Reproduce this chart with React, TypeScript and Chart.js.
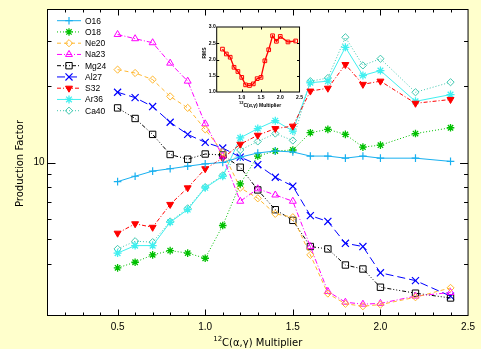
import React, { useEffect, useRef } from 'react';
import { Chart, registerables, PointElement } from 'chart.js';
Chart.register(...registerables);

const BG = '#FFFFCC';

const multipliers = [0.5, 0.6, 0.7, 0.8, 0.9, 1.0, 1.1, 1.2, 1.3, 1.4, 1.5, 1.6, 1.7, 1.8, 1.9, 2.0, 2.2, 2.4];
const o16 = [8.41, 8.83, 9.25, 9.45, 9.67, 9.88, 10.0, 10.5, 10.9, 11.1, 11.0, 10.6, 10.6, 10.4, 10.6, 10.4, 10.4, 10.1];
const o18 = [3.85, 4.05, 4.33, 4.5, 4.4, 4.2, 5.65, 8.24, 10.6, 11.1, 11.2, 13.1, 13.5, 12.9, 11.5, 11.7, 13.0, 13.7];
const ne20 = [23.2, 22.5, 21.2, 18.2, 16.4, 13.5, 11.0, 7.95, 7.23, 6.28, 6.09, 4.33, 3.05, 2.78, 2.72, 2.76, 2.95, 3.21];
const na23 = [31.9, 30.7, 29.6, 24.6, 20.9, 14.2, 10.6, 7.04, 7.88, 7.45, 7.04, 4.67, 3.11, 2.82, 2.77, 2.79, 2.98, 3.08];
const mg24 = [16.4, 14.9, 12.9, 10.75, 10.3, 10.8, 10.7, 9.58, 7.8, 6.52, 5.92, 4.67, 4.57, 3.95, 3.81, 3.23, 3.06, 2.93];
const al27 = [18.9, 18.0, 16.6, 14.4, 12.9, 12.0, 11.4, 10.5, 9.8, 8.75, 8.07, 6.18, 5.86, 4.81, 4.67, 3.68, 3.43, 2.98];
const s32 = [5.27, 5.74, 5.56, 6.84, 7.95, 9.45, 10.4, 11.8, 12.8, 13.6, 13.9, 19.1, 19.6, 24.3, 20.3, 20.9, 17.1, 17.7];
const ar36 = [4.4, 4.71, 4.71, 5.82, 6.53, 7.95, 8.83, 12.5, 13.6, 14.6, 13.3, 20.6, 20.9, 28.4, 22.0, 23.0, 17.4, 18.5];
const ca40 = [4.57, 4.9, 4.86, 5.86, 6.6, 8.0, 8.9, 11.2, 12.1, 13.0, 12.2, 20.9, 21.5, 31.1, 24.1, 25.6, 18.9, 20.7];
const rms = [2.32, 2.17, 2.07, 1.76, 1.63, 1.45, 1.22, 1.2, 1.25, 1.41, 1.45, 1.96, 2.3, 2.73, 2.56, 2.71, 2.54, 2.57];

const seriesLabels = ['O16', 'O18', 'Ne20', 'Na23', 'Mg24', 'Al27', 'S32', 'Ar36', 'Ca40'];
const seriesValues = [o16, o18, ne20, na23, mg24, al27, s32, ar36, ca40];
const seriesStyles = [
  { color: '#18B0F0', dash: [], point: 'cross', radius: 3.8, fill: false, bw: 1.2, rot: 0 },
  { color: '#00C000', dash: [1, 2], point: 'star', radius: 3.8, fill: false, bw: 1.3, rot: 0 },
  { color: '#FFB830', dash: [4, 3], point: 'rectRot', radius: 3.6, fill: false, bw: 1, rot: 0 },
  { color: '#FF00FF', dash: [5, 2, 1, 2], point: 'triangle', radius: 4, fill: false, bw: 1, rot: 0 },
  { color: '#000000', dash: [4, 2, 1, 2, 1, 2, 1, 2], point: 'rect', radius: 4.5, fill: false, bw: 1, rot: 0 },
  { color: '#0000FF', dash: [8, 4], point: 'crossRot', radius: 5, fill: false, bw: 1.2, rot: 0 },
  { color: '#FF0000', dash: [4, 2, 1, 2], point: 'triangle', radius: 4, fill: true, bw: 1, rot: 180 },
  { color: '#40F0F0', dash: [], point: 'star', radius: 4, fill: false, bw: 1.3, rot: 0 },
  { color: '#40C8B0', dash: [1, 2], point: 'rectRot', radius: 3.6, fill: false, bw: 1, rot: 0 },
];

const TICK_FONT = 'Liberation Sans, Arial, sans-serif';
const TITLE_FONT = 'DejaVu Sans, sans-serif';

const mainPlugin = {
  id: 'mainFrame',
  beforeDraw(chart: any) {
    const { ctx, chartArea: a, width, height } = chart;
    ctx.save();
    ctx.fillStyle = BG;
    ctx.fillRect(0, 0, width, height);
    ctx.fillStyle = '#FFFFFF';
    ctx.fillRect(a.left, a.top, a.right - a.left, a.bottom - a.top);
    ctx.restore();
  },
  afterDraw(chart: any) {
    const { ctx, chartArea: a } = chart;
    const xs = chart.scales.x;
    const ys = chart.scales.y;
    ctx.save();
    ctx.setLineDash([]);
    ctx.strokeStyle = '#000';
    ctx.lineWidth = 1;
    ctx.beginPath();
    xs.ticks.forEach((t: any) => {
      const v = t.value;
      if (v <= xs.min + 1e-6 || v >= xs.max - 1e-6) return;
      const px = Math.round(xs.getPixelForValue(v)) + 0.5;
      const major = Math.abs(v * 2 - Math.round(v * 2)) < 1e-6;
      const len = major ? 6 : 3;
      ctx.moveTo(px, a.bottom);
      ctx.lineTo(px, a.bottom - len);
      ctx.moveTo(px, a.top);
      ctx.lineTo(px, a.top + len);
    });
    ys.ticks.forEach((t: any) => {
      const v = t.value;
      if (v <= ys.min * 1.0001 || v >= ys.max * 0.9999) return;
      const e = Math.pow(10, Math.floor(Math.log10(v) + 1e-9));
      const m = v / e;
      if (Math.abs(m - Math.round(m)) > 1e-6) return;
      const py = Math.round(ys.getPixelForValue(v)) + 0.5;
      const major = Math.abs(m - 1) < 1e-6;
      const len = major ? 8 : 4;
      ctx.moveTo(a.left, py);
      ctx.lineTo(a.left + len, py);
      ctx.moveTo(a.right, py);
      ctx.lineTo(a.right - len, py);
    });
    ctx.stroke();
    ctx.strokeRect(a.left, a.top, a.right - a.left, a.bottom - a.top);

    // legend
    chart.data.datasets.forEach((ds: any, i: number) => {
      const y = 20.7 + i * 11.25;
      ctx.save();
      ctx.strokeStyle = ds.borderColor;
      ctx.lineWidth = 1;
      ctx.setLineDash(ds.borderDash || []);
      ctx.beginPath();
      ctx.moveTo(57, y);
      ctx.lineTo(81, y);
      ctx.stroke();
      ctx.setLineDash([]);
      const el = chart.getDatasetMeta(i).data[0];
      const p: any = new (PointElement as any)({ x: 69, y, options: el.options });
      p.draw(ctx, a);
      ctx.restore();
      ctx.fillStyle = '#000';
      ctx.font = '8.5px ' + TICK_FONT;
      ctx.textBaseline = 'middle';
      ctx.textAlign = 'left';
      ctx.fillText(ds.label, 85, y + 0.5);
    });

    // y title
    ctx.save();
    ctx.fillStyle = '#000';
    ctx.font = '10px ' + TITLE_FONT;
    ctx.textAlign = 'center';
    ctx.textBaseline = 'middle';
    ctx.translate(20.5, 163.5);
    ctx.rotate(-Math.PI / 2);
    ctx.fillText('Production Factor', 0, 0);
    ctx.restore();

    // x title with superscript
    ctx.save();
    ctx.fillStyle = '#000';
    ctx.textBaseline = 'alphabetic';
    ctx.textAlign = 'left';
    ctx.font = '7px ' + TITLE_FONT;
    const w1 = ctx.measureText('12').width;
    ctx.font = '10px ' + TITLE_FONT;
    const main = 'C(\u03b1,\u03b3) Multiplier';
    const w2 = ctx.measureText(main).width;
    const cx = (a.left + a.right) / 2;
    const sx = cx - (w1 + w2) / 2;
    ctx.font = '7px ' + TITLE_FONT;
    ctx.fillText('12', sx, 341.2);
    ctx.font = '10px ' + TITLE_FONT;
    ctx.fillText(main, sx + w1, 346);
    ctx.restore();
    ctx.restore();
  },
};

const insetPlugin = {
  id: 'insetFrame',
  beforeDraw(chart: any) {
    const { ctx, chartArea: a } = chart;
    ctx.save();
    ctx.fillStyle = BG;
    ctx.fillRect(a.left, a.top, a.right - a.left, a.bottom - a.top);
    ctx.restore();
  },
  afterDraw(chart: any) {
    const { ctx, chartArea: a } = chart;
    const xs = chart.scales.x;
    const ys = chart.scales.y;
    ctx.save();
    ctx.setLineDash([]);
    ctx.strokeStyle = '#000';
    ctx.lineWidth = 1;
    ctx.beginPath();
    xs.ticks.forEach((t: any) => {
      const v = t.value;
      if (v <= xs.min + 1e-6 || v >= xs.max - 1e-6) return;
      const px = Math.round(xs.getPixelForValue(v)) + 0.5;
      ctx.moveTo(px, a.bottom);
      ctx.lineTo(px, a.bottom - 2.5);
      ctx.moveTo(px, a.top);
      ctx.lineTo(px, a.top + 2.5);
    });
    ys.ticks.forEach((t: any) => {
      const v = t.value;
      if (v <= ys.min + 1e-6 || v >= ys.max - 1e-6) return;
      const py = Math.round(ys.getPixelForValue(v)) + 0.5;
      ctx.moveTo(a.left, py);
      ctx.lineTo(a.left + 2.5, py);
      ctx.moveTo(a.right, py);
      ctx.lineTo(a.right - 2.5, py);
    });
    ctx.stroke();
    ctx.strokeRect(a.left, a.top, a.right - a.left, a.bottom - a.top);

    ctx.fillStyle = '#000';
    // RMS
    ctx.save();
    ctx.font = 'bold 5px ' + TICK_FONT;
    ctx.textAlign = 'center';
    ctx.textBaseline = 'middle';
    ctx.translate(9, 41);
    ctx.rotate(-Math.PI / 2);
    ctx.fillText('RMS', 0, 0);
    ctx.restore();

    // x title
    ctx.textBaseline = 'alphabetic';
    ctx.textAlign = 'left';
    ctx.font = 'bold 4px ' + TICK_FONT;
    const w1 = ctx.measureText('12').width;
    ctx.font = 'bold 5px ' + TICK_FONT;
    const main = 'C(\u03b1,\u03b3) Multiplier';
    const w2 = ctx.measureText(main).width;
    const cx = (a.left + a.right) / 2 + 2;
    const sx = cx - (w1 + w2) / 2;
    ctx.font = 'bold 4px ' + TICK_FONT;
    ctx.fillText('12', sx, 92);
    ctx.font = 'bold 5px ' + TICK_FONT;
    ctx.fillText(main, sx + w1, 94.5);
    ctx.restore();
  },
};

export default function App() {
  const mainRef = useRef<HTMLCanvasElement>(null);
  const insetRef = useRef<HTMLCanvasElement>(null);

  useEffect(() => {
    const datasets = seriesLabels.map((label, i) => {
      const st = seriesStyles[i];
      return {
        label,
        data: multipliers.map((x, j) => ({ x, y: seriesValues[i][j] })),
        borderColor: st.color,
        backgroundColor: st.color,
        borderWidth: 1,
        borderDash: st.dash,
        pointStyle: st.point,
        pointRadius: st.radius,
        pointRotation: st.rot,
        pointBorderColor: st.color,
        pointBorderWidth: st.bw,
        pointBackgroundColor: st.fill ? st.color : 'rgba(0,0,0,0)',
        fill: false,
        tension: 0,
      };
    });
    const mainChart = new Chart(mainRef.current as HTMLCanvasElement, {
      type: 'line',
      data: { datasets } as any,
      options: {
        animation: false,
        responsive: false,
        maintainAspectRatio: false,
        layout: { padding: { top: 9.5, right: 9.5, left: 0, bottom: 0 } },
        plugins: { legend: { display: false }, tooltip: { enabled: false } },
        scales: {
          x: {
            type: 'linear',
            min: 0.1,
            max: 2.5,
            ticks: {
              stepSize: 0.1,
              autoSkip: false,
              maxRotation: 0,
              padding: 6,
              color: '#000',
              font: { family: TICK_FONT, size: 10 },
              callback: (v: any) => {
                const r = Math.round(Number(v) * 10);
                return r % 5 === 0 && r >= 5 ? (r / 10).toFixed(1) : '';
              },
            },
            grid: { display: false, drawTicks: false },
            border: { display: false },
            afterFit: (s: any) => { s.height = 33.5; },
          },
          y: {
            type: 'logarithmic',
            min: 2.5,
            max: 40,
            ticks: {
              autoSkip: false,
              padding: 3,
              color: '#000',
              font: { family: TICK_FONT, size: 10 },
              callback: (v: any) => (Math.abs(Number(v) - 10) < 1e-9 ? '10' : ''),
            },
            grid: { display: false, drawTicks: false },
            border: { display: false },
            afterFit: (s: any) => { s.width = 47.5; },
          },
        },
      } as any,
      plugins: [mainPlugin],
    });

    const insetChart = new Chart(insetRef.current as HTMLCanvasElement, {
      type: 'line',
      data: {
        datasets: [
          {
            label: 'RMS',
            data: multipliers.map((x, j) => ({ x, y: rms[j] })),
            borderColor: '#FF0000',
            borderWidth: 1.3,
            pointStyle: 'rect',
            pointRadius: 2.6,
            pointBorderColor: '#FF0000',
            pointBorderWidth: 1,
            pointBackgroundColor: 'rgba(0,0,0,0)',
            fill: false,
            tension: 0,
          },
        ],
      } as any,
      options: {
        animation: false,
        responsive: false,
        maintainAspectRatio: false,
        layout: { padding: { top: 15, right: 4, left: 0, bottom: 0 } },
        plugins: { legend: { display: false }, tooltip: { enabled: false } },
        scales: {
          x: {
            type: 'linear',
            min: 0.35,
            max: 2.5,
            ticks: {
              stepSize: 0.5,
              autoSkip: false,
              maxRotation: 0,
              padding: 3,
              color: '#000',
              font: { family: TICK_FONT, size: 5, weight: 'bold' },
              callback: (v: any) => {
                const r = Math.round(Number(v) * 10);
                return Math.abs(Number(v) * 10 - r) < 1e-6 && r % 5 === 0 ? (r / 10).toFixed(1) : '';
              },
            },
            grid: { display: false, drawTicks: false },
            border: { display: false },
            afterFit: (s: any) => { s.height = 20; },
          },
          y: {
            type: 'linear',
            min: 1.0,
            max: 3.0,
            ticks: {
              stepSize: 0.5,
              autoSkip: false,
              padding: 1,
              color: '#000',
              font: { family: TICK_FONT, size: 5, weight: 'bold' },
              callback: (v: any) => Number(v).toFixed(1),
            },
            grid: { display: false, drawTicks: false },
            border: { display: false },
            afterFit: (s: any) => { s.width = 20.7; },
          },
        },
      } as any,
      plugins: [insetPlugin],
    });

    return () => {
      mainChart.destroy();
      insetChart.destroy();
    };
  }, []);

  return (
    <div style={{ position: 'absolute', left: 0, top: 0, width: 481, height: 349, background: BG }}>
      <canvas
        ref={mainRef}
        width={481}
        height={349}
        style={{ position: 'absolute', left: 0, top: 0, width: 481, height: 349 }}
      />
      <canvas
        ref={insetRef}
        width={110}
        height={100}
        style={{ position: 'absolute', left: 196, top: 12, width: 110, height: 100 }}
      />
    </div>
  );
}
